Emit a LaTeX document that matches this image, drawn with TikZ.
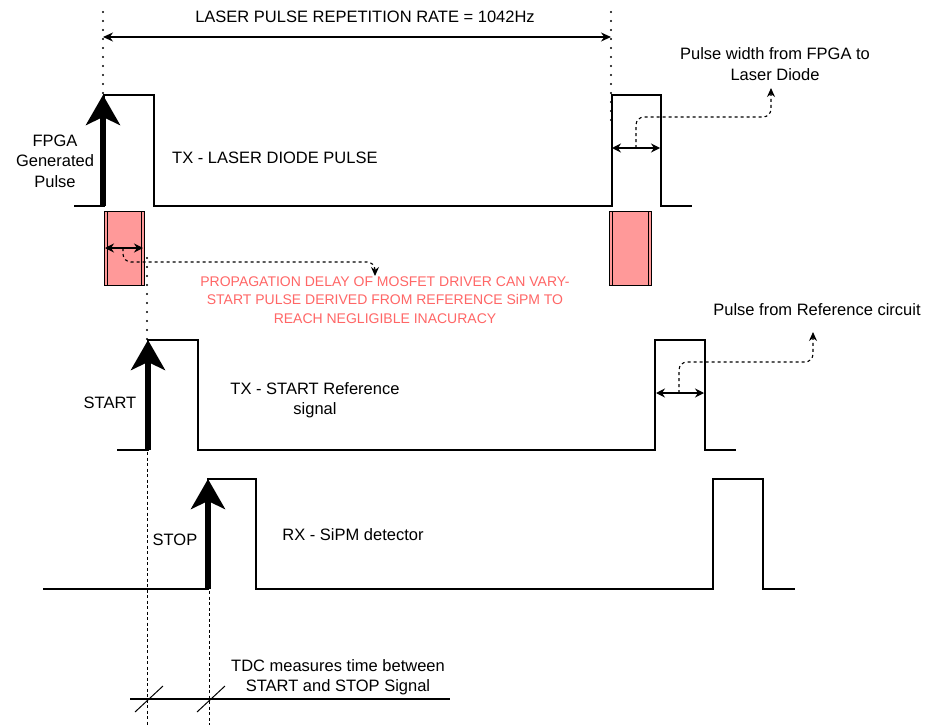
\documentclass[tikz,border=0pt]{standalone}
\usepackage{fontspec}
\setmainfont{Liberation Sans}
\usetikzlibrary{arrows.meta}
\definecolor{redfill}{HTML}{FF9999}
\definecolor{redtext}{HTML}{FF6666}
\begin{document}
\begin{tikzpicture}[x=1pt,y=-1pt,
  sig/.style={line width=1.3pt, line join=miter},
  bigarrow/.style={line width=5.5pt, -{Stealth[length=30pt,width=34pt,inset=8pt]}},
  dbl/.style={line width=1.3pt, {Stealth[length=9pt,width=9pt]}-{Stealth[length=9pt,width=9pt]}},
  leader/.style={dash pattern=on 3pt off 3pt, line width=1.1pt, rounded corners=8pt, -{Stealth[length=9pt,width=8pt]}},
  dotline/.style={line width=2.4pt, dash pattern=on 0pt off 9pt, line cap=round},
  dashline/.style={dash pattern=on 3pt off 2.5pt, line width=1pt},
  redbox/.style={fill=redfill, line width=1pt},
  lbl/.style={font=\fontsize{16.5}{20.5}\selectfont, align=center, inner sep=0pt},
  redlbl/.style={font=\fontsize{14}{18.5}\selectfont, align=center, inner sep=0pt, text=redtext}
]
\useasboundingbox (0,0) rectangle (929,725);
\fill[white] (0,0) rectangle (929,725);

% ---------- named coordinates ----------
\coordinate (rateL) at (103,37);
\coordinate (rateR) at (611,37);
\coordinate (w1L) at (612,148);
\coordinate (w1R) at (660,148);
\coordinate (w1M) at (636,148);
\coordinate (w2L) at (656,393);
\coordinate (w2R) at (704,393);
\coordinate (w2M) at (679,393);
\coordinate (dL) at (105,248);
\coordinate (dR) at (143,248);
\coordinate (dM) at (123,248);
\coordinate (fpgaB) at (103,206);
\coordinate (fpgaT) at (103,95);
\coordinate (startB) at (148,450);
\coordinate (startT) at (148,340);
\coordinate (stopB) at (208,589);
\coordinate (stopT) at (208,479);
\coordinate (tdcL) at (130,699);
\coordinate (tdcR) at (450,699);

% ---------- vertical guide lines ----------
\draw[dotline] (103,12) -- (103,95);
\draw[dotline] (611,12) -- (611,120);
\draw[dotline] (147,258) -- (147,340);
\draw[dashline] (147,452) -- (147,725);
\draw[dashline] (209,591) -- (209,725);

% ---------- repetition-rate arrow ----------
\draw[line width=1.1pt, {Stealth[length=10pt,width=9pt]}-{Stealth[length=10pt,width=9pt]}] (rateL) -- (rateR);
\node[lbl] (title) at (365,17) {LASER PULSE REPETITION RATE = 1042Hz};

% ---------- row 1: TX laser diode ----------
\draw[sig] (74,206) -- (104,206) -- (104,95) -- (154,95) -- (154,206) -- (612,206) -- (612,95) -- (661,95) -- (661,206) -- (692,206);
\draw[bigarrow] (fpgaB) -- (fpgaT);
\node[lbl] (fpga) at (55,161) {FPGA\\Generated\\Pulse};
\node[lbl, anchor=west] (txlaser) at (172,158) {TX - LASER DIODE PULSE};
\node[lbl] (pwlabel) at (775,64) {Pulse width from FPGA to\\Laser Diode};
\draw[dbl] (w1L) -- (w1R);
\coordinate (pwtip) at (771,88);
\draw[leader] (w1M) -- (636,117) -- (771,117) -- (pwtip);

% red delay boxes
\draw[redbox] (104,211) rectangle (144,285);
\draw[line width=1pt] (107,211) -- (107,285) (141,211) -- (141,285);
\draw[redbox] (609,211) rectangle (651,285);
\draw[line width=1pt] (612,211) -- (612,285) (648,211) -- (648,285);
\draw[dbl] (dL) -- (dR);
\coordinate (proptip) at (375,276);
\draw[leader] (dM) -- (123,262) -- (375,262) -- (proptip);
\node[redlbl] (prop) at (385,300) {PROPAGATION DELAY OF MOSFET DRIVER CAN VARY-\\START PULSE DERIVED FROM REFERENCE SiPM TO\\REACH NEGLIGIBLE INACURACY};

% ---------- row 2: START reference ----------
\draw[sig] (117,450) -- (148,450) -- (148,340) -- (198,340) -- (198,450) -- (655,450) -- (655,340) -- (705,340) -- (705,450) -- (736,450);
\draw[bigarrow] (startB) -- (startT);
\node[lbl] (start) at (110,403) {START};
\node[lbl] (txstart) at (315,400) {TX - START Reference\\signal};
\draw[dbl] (w2L) -- (w2R);
\coordinate (reftip) at (813,332);
\draw[leader] (w2M) -- (679,362) -- (813,362) -- (reftip);
\node[lbl] (reflabel) at (817,310) {Pulse from Reference circuit};

% ---------- row 3: RX SiPM ----------
\draw[sig] (43,589) -- (208,589) -- (208,479) -- (256,479) -- (256,589) -- (713,589) -- (713,479) -- (763,479) -- (763,589) -- (795,589);
\draw[bigarrow] (stopB) -- (stopT);
\node[lbl] (stop) at (175,540) {STOP};
\node[lbl] (rx) at (353,535) {RX - SiPM detector};

% ---------- TDC measurement ----------
\draw[line width=1.1pt] (tdcL) -- (tdcR);
\draw[line width=1pt] (135,712) -- (163,686);
\draw[line width=1pt] (197,712) -- (225,686);
\node[lbl] (tdc) at (338,677) {TDC measures time between\\START and STOP Signal};
\end{tikzpicture}
\end{document}
